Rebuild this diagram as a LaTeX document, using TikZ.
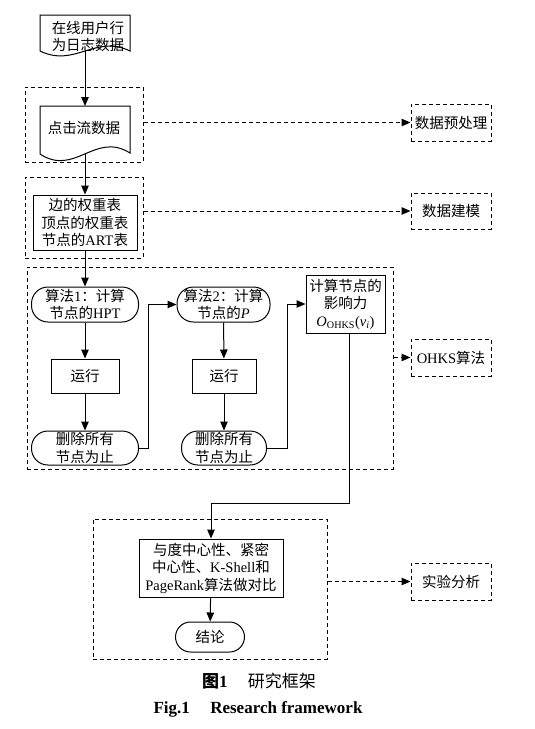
\documentclass[tikz,border=0pt]{standalone}
\usepackage{fontspec}
\setmainfont{Liberation Serif}
\newfontfamily\cjk{Noto Sans CJK SC}
\usetikzlibrary{arrows.meta}
\newcommand\zhs[1]{{\cjk #1}}
\newcommand\fsz{\fontsize{14.5}{17.5}\selectfont}
\begin{document}
\begin{tikzpicture}[x=1pt,y=-1pt,
  lw/.style={line width=1pt},
  box/.style={draw, lw, align=center, inner sep=0pt, font=\fsz},
  pill/.style={box, rounded corners=16.5pt},
  dsh/.style={dash pattern=on 4pt off 3pt},
  grp/.style={draw, lw, dsh, inner sep=0pt},
  side/.style={grp, align=center, font=\fsz, minimum width=80pt, minimum height=37pt},
  arr/.style={lw, -{Triangle[length=9pt,width=7.5pt]}},
  darr/.style={arr, dsh},
  txt/.style={align=center, inner sep=0pt, font=\fsz}]
\useasboundingbox (0,0) rectangle (535,729);

% dashed groups
\node[grp, minimum width=118pt, minimum height=75pt] (g1) at (84,124.5) {};
\node[grp, minimum width=118pt, minimum height=81pt] (g2) at (84,217.5) {};
\node[grp, minimum width=366pt, minimum height=202pt] (g3) at (210,368) {};
\node[grp, minimum width=234pt, minimum height=140pt] (g4) at (210,589) {};

% documents
\draw[lw, fill=white] (40,15) -- (130,15) -- (130,51) .. controls (95,34) and (75,68) .. (40,51) -- cycle;
\node[txt] (d1) at (88,36.5) {\zhs{在线用户行}\\\zhs{为日志数据}};
\coordinate (d1b) at (85,51);
\draw[lw, fill=white] (40,106) -- (130,106) -- (130,153) .. controls (95,131) and (75,177) .. (40,154) -- cycle;
\node[txt] (d2) at (84,128) {\zhs{点击流数据}};
\coordinate (d2t) at (85,106);
\coordinate (d2b) at (85,154);

\node[box, minimum width=104pt, minimum height=55pt] (tab) at (85,222.5)
  {\zhs{边的权重表}\\\zhs{顶点的权重表}\\\zhs{节点的}ART\zhs{表}};

% algorithm part
\node[pill, minimum width=107pt, minimum height=35pt] (a1) at (85,304.5) {\zhs{算法}1\zhs{：计算}\\\zhs{节点的}HPT};
\node[box, minimum width=68pt, minimum height=34pt] (r1) at (85,376) {\zhs{运行}};
\node[pill, minimum width=107pt, minimum height=34pt] (e1) at (85,448) {\zhs{删除所有}\\\zhs{节点为止}};
\node[pill, minimum width=93pt, minimum height=35pt] (a2) at (223.5,304.5) {\zhs{算法}2\zhs{：计算}\\\zhs{节点的}\textit{P}};
\node[box, minimum width=64pt, minimum height=34pt] (r2) at (224,376) {\zhs{运行}};
\node[pill, minimum width=85pt, minimum height=34pt] (e2) at (224,448) {\zhs{删除所有}\\\zhs{节点为止}};
\node[box, minimum width=79pt, minimum height=58pt] (c) at (345.5,304)
  {\zhs{计算节点的}\\\zhs{影响力}\\\textit{O}\textsubscript{OHKS}(\textit{v}\textsubscript{\textit{i}})};

% analysis part
\node[box, minimum width=144pt, minimum height=58pt] (cmp) at (211,568)
  {\zhs{与度中心性、紧密}\\\zhs{中心性、}K-Shell\zhs{和}\\PageRank\zhs{算法做对比}};
\node[pill, minimum width=69pt, minimum height=30pt, rounded corners=15pt] (jl) at (210,637) {\zhs{结论}};

% side labels
\node[side] (s1) at (451,122.5) {\zhs{数据预处理}};
\node[side, minimum height=36pt] (s2) at (451,211) {\zhs{数据建模}};
\node[side] (s3) at (451,357.5) {OHKS\zhs{算法}};
\node[side] (s4) at (451,581.5) {\zhs{实验分析}};

% solid connectors
\draw[arr] (d1b) -- (d2t);
\draw[arr] (d2b) -- (tab.north);
\draw[arr] (tab.south) -- (a1.north);
\draw[arr] (a1) -- (r1);
\draw[arr] (r1) -- (e1);
\draw[arr] (e1.east) -- ++(9,0) |- (a2.west);
\draw[arr] (a2) -- (r2);
\draw[arr] (r2) -- (e2);
\draw[arr] (e2.east) -- ++(20,0) |- (c.west);
\draw[arr] ([xshift=3.5pt]c.south) -- ++(0,170) -| (cmp.north);
\draw[arr] (cmp) -- (jl);

% dashed connectors
\draw[darr] (g1.east |- s1.west) -- (s1.west);
\draw[darr] (g2.east |- s2.west) -- (s2.west);
\draw[darr] (g3.east |- s3.west) -- (s3.west);
\draw[darr] (g4.east |- s4.west) -- (s4.west);

% caption
\node[inner sep=0pt, font=\fontsize{17}{19}\selectfont] (cap1) at (259,681)
  {{\cjk\bfseries 图}\textbf{1}\hspace{1.2em}\zhs{研究框架}};
\node[inner sep=0pt, font=\fontsize{17}{19}\selectfont\bfseries] (cap2) at (258,709)
  {Fig.1\hspace{1.2em}Research framework};
\end{tikzpicture}
\end{document}
